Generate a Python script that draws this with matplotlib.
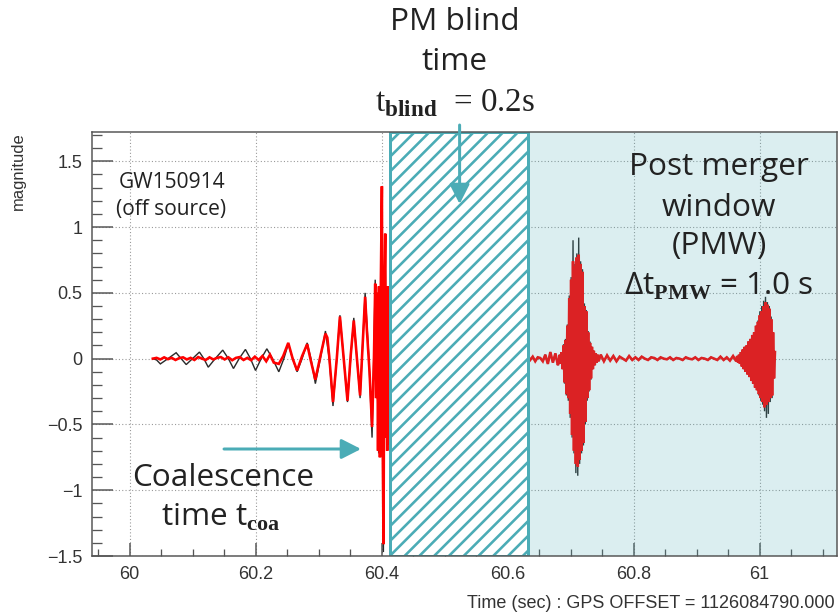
import numpy as np
import matplotlib
matplotlib.use("Agg")
import matplotlib.pyplot as plt
from matplotlib.ticker import MultipleLocator, FuncFormatter

# ---------------------------------------------------------------------------
# Figure geometry (pixels) and unit helper
# ---------------------------------------------------------------------------
W, H, DPI = 838, 616, 133


def pt(px):
    """Convert a size in pixels to points at the figure dpi."""
    return px * 72.0 / DPI


def fx(x):
    return x / W


def fy(y):
    return 1.0 - y / H


TEAL = "#4bacb6"
TEXT = "#222222"

plt.rcParams["mathtext.fontset"] = "custom"
plt.rcParams["mathtext.rm"] = "Liberation Serif"
plt.rcParams["mathtext.bf"] = "Liberation Serif:bold"
plt.rcParams["hatch.linewidth"] = pt(2.6)
plt.rcParams["hatch.color"] = TEAL

# ---------------------------------------------------------------------------
# Data
# ---------------------------------------------------------------------------
# Axis ranges (s, magnitude)
x_range = (59.940, 61.123)
y_range = (-1.50, 1.725)

# Post-merger blind window and post-merger window start
blind_start = 60.4138
blind_end = 60.632

# Whitened strain (black) during the inspiral
black_t = [60.037, 60.043, 60.049, 60.061, 60.074, 60.082, 60.090, 60.100,
           60.111, 60.118, 60.125, 60.136, 60.148, 60.157, 60.165, 60.174,
           60.184, 60.192, 60.200, 60.209, 60.218, 60.227, 60.237, 60.245,
           60.252, 60.259, 60.266, 60.274, 60.282, 60.288, 60.295, 60.303,
           60.311, 60.317, 60.323, 60.329, 60.334, 60.340, 60.346, 60.351,
           60.356, 60.361, 60.366, 60.370, 60.374, 60.380, 60.385, 60.388,
           60.390, 60.393, 60.3955, 60.398, 60.400, 60.4015, 60.403, 60.4045,
           60.406, 60.4075, 60.409, 60.4105, 60.412, 60.4135]
black_v = [0.00, -0.01, -0.04, 0.00, 0.045, 0.00, -0.045, 0.00,
           0.05, 0.00, -0.065, 0.00, 0.065, 0.00, -0.075, 0.00,
           0.07, 0.00, -0.09, 0.00, 0.075, 0.00, -0.10, 0.00,
           0.11, 0.00, -0.10, 0.00, 0.12, 0.00, -0.19, 0.00,
           0.21, 0.00, -0.36, 0.00, 0.33, 0.00, -0.33, 0.00,
           0.31, 0.00, -0.30, 0.10, 0.50, 0.00, -0.60, 0.10,
           0.60, -0.10, -0.72, 0.30, 1.05, -0.30, -1.47, 0.20,
           0.95, -0.40, 0.55, -0.65, 0.50, -0.30]

# Reconstructed waveform (red) during the inspiral
red_t = [60.037, 60.043, 60.049, 60.055, 60.061, 60.067, 60.073, 60.079,
         60.085, 60.091, 60.097, 60.103, 60.109, 60.115, 60.121, 60.127,
         60.133, 60.139, 60.145, 60.151, 60.157, 60.163, 60.169, 60.175,
         60.181, 60.187, 60.193, 60.199, 60.205, 60.211, 60.217, 60.223,
         60.229, 60.237, 60.244, 60.252, 60.259, 60.266, 60.274, 60.282,
         60.288, 60.295, 60.303, 60.311, 60.314, 60.317, 60.323, 60.329,
         60.334, 60.340, 60.346, 60.351, 60.356, 60.361, 60.366, 60.370,
         60.374, 60.377, 60.381, 60.385, 60.388, 60.390, 60.3915, 60.393,
         60.3945, 60.396, 60.3975, 60.399, 60.4006, 60.4018, 60.4032, 60.4045,
         60.4059, 60.407, 60.408, 60.409, 60.410, 60.411, 60.412, 60.413,
         60.4138]
red_v = [0.00, 0.006, -0.006, 0.01, -0.004, 0.006, -0.01, 0.004,
         0.01, -0.006, 0.006, -0.01, 0.012, 0.00, -0.01, 0.01,
         -0.006, 0.006, 0.012, -0.006, 0.01, -0.012, 0.006, 0.012,
         -0.01, 0.006, -0.012, 0.015, -0.01, 0.02, -0.02, 0.03,
         -0.03, -0.04, 0.02, 0.12, 0.00, -0.09, 0.02, 0.11,
         -0.02, -0.16, 0.02, 0.19, 0.16, 0.02, -0.33, 0.00,
         0.32, 0.00, -0.32, 0.02, 0.29, 0.00, -0.28, 0.10,
         0.47, 0.20, -0.10, -0.52, 0.00, 0.57, -0.30, 0.50,
         -0.70, 0.55, -0.75, 0.60, 1.31, -0.60, -1.41, 0.50,
         0.95, -0.60, 0.55, -0.70, 0.55, -0.65, 0.50, -0.60,
         0.30]

# Post-merger segments: uniformly sampled (start time, sample step, values)
pm_quiet1_start, pm_quiet1_step = 60.632, 0.004
pm_quiet1 = [0.02, -0.01, 0.015, -0.02, 0.01, 0.005, -0.02, 0.03, -0.04,
             0.05, -0.03, 0.04, -0.05]

pm_burst1_start, pm_burst1_step = 60.6815, 0.0015
pm_burst1_red = [-0.02, 0.03, -0.04, 0.05, -0.08, 0.10, -0.18, 0.14, -0.27,
                 0.25, -0.30, 0.46, -0.42, 0.60, -0.58, 0.74, -0.70, 0.70,
                 -0.80, 0.77, -0.82, 0.79, -0.77, 0.72, -0.70, 0.66, -0.64,
                 0.40, -0.48, 0.36, -0.30, 0.20, -0.24, 0.12, -0.15, 0.09,
                 -0.08, 0.06, -0.05, 0.04, -0.03, 0.03, -0.02]
pm_burst1_black = [-0.02, 0.03, -0.04, 0.05, -0.08, 0.11, -0.19, 0.15, -0.28,
                   0.26, -0.32, 0.48, -0.45, 0.62, -0.60, 0.90, -0.72, 0.72,
                   -0.87, 0.80, -0.89, 0.92, -0.80, 0.74, -0.72, 0.68, -0.66,
                   0.42, -0.50, 0.37, -0.32, 0.21, -0.25, 0.13, -0.16, 0.09,
                   -0.08, 0.06, -0.05, 0.04, -0.03, 0.03, -0.02]

pm_quiet2_start, pm_quiet2_step = 60.748, 0.005
pm_quiet2 = [0.03, -0.02, 0.025, -0.015, 0.02, -0.02, 0.015, 0.00, -0.015,
             0.02, -0.01, 0.01, -0.01, 0.015, 0.00, -0.01, 0.01, 0.005,
             -0.01, 0.01, 0.00, -0.005, 0.01, -0.01, 0.005, 0.00, -0.01,
             0.01, 0.00, -0.005, 0.01, -0.01, 0.005, 0.00, -0.01, 0.01,
             0.00, -0.01, 0.015, -0.01, 0.01, -0.015, 0.02, -0.02]

pm_burst2_start, pm_burst2_step = 60.9645, 0.0015
pm_burst2_red = [0.02, -0.03, 0.03, -0.04, 0.05, -0.06, 0.07, -0.08, 0.09,
                 -0.10, 0.10, -0.12, 0.13, -0.14, 0.15, -0.17, 0.18, -0.19,
                 0.20, -0.22, 0.25, -0.24, 0.28, -0.27, 0.33, -0.30, 0.36,
                 -0.33, 0.40, -0.37, 0.43, -0.35, 0.41, -0.33, 0.38, -0.30,
                 0.30, -0.28, 0.20, -0.15, 0.05]
pm_burst2_black = [0.02, -0.03, 0.03, -0.04, 0.05, -0.06, 0.07, -0.08, 0.09,
                   -0.10, 0.10, -0.12, 0.13, -0.14, 0.15, -0.17, 0.18, -0.19,
                   0.20, -0.22, 0.25, -0.24, 0.29, -0.28, 0.36, -0.32, 0.40,
                   -0.35, 0.44, -0.40, 0.47, -0.45, 0.43, -0.42, 0.40, -0.33,
                   0.32, -0.30, 0.20, -0.15, 0.05]


def sampled(start, step, values):
    return start + step * np.arange(len(values)), np.asarray(values)


def join(*segments):
    ts, vs = zip(*[sampled(*s) for s in segments])
    return np.concatenate(ts), np.concatenate(vs)


pm_red_t, pm_red_v = join((pm_quiet1_start, pm_quiet1_step, pm_quiet1),
                          (pm_burst1_start, pm_burst1_step, pm_burst1_red),
                          (pm_quiet2_start, pm_quiet2_step, pm_quiet2),
                          (pm_burst2_start, pm_burst2_step, pm_burst2_red))
pm_black_t, pm_black_v = join((pm_quiet1_start, pm_quiet1_step, pm_quiet1),
                              (pm_burst1_start, pm_burst1_step, pm_burst1_black),
                              (pm_quiet2_start, pm_quiet2_step, pm_quiet2),
                              (pm_burst2_start, pm_burst2_step, pm_burst2_black))

# ---------------------------------------------------------------------------
# Figure
# ---------------------------------------------------------------------------
fig = plt.figure(figsize=((W + 0.01) / DPI, (H + 0.01) / DPI), dpi=DPI)
fig.patch.set_facecolor("white")
ax = fig.add_axes([fx(91.7), fy(556.0), (837.0 - 91.7) / W, (556.0 - 131.7) / H])

black_kw = dict(color="#2a2a2a", lw=pt(1.4), solid_joinstyle="miter", zorder=2)
red_kw = dict(color="#ff0000", lw=pt(2.6), solid_joinstyle="miter", zorder=3)
ax.plot(black_t, black_v, **black_kw)
ax.plot(red_t, red_v, **red_kw)
ax.plot(pm_black_t, pm_black_v, **black_kw)
ax.plot(pm_red_t, pm_red_v, **red_kw)

ax.set_xlim(*x_range)
ax.set_ylim(*y_range)

# Post-merger window (translucent) and blind window (hatched)
ax.axvspan(blind_end, x_range[1], facecolor=TEAL, alpha=0.2,
           edgecolor="none", zorder=4)
ax.axvspan(blind_start, blind_end, facecolor="white", edgecolor=TEAL,
           hatch="///", lw=pt(3.0), zorder=5)

# Axes styling in the ROOT manner
ax.set_axisbelow(True)
ax.grid(True, which="major", ls=(0, (1, 2)), color="#9a9a9a", lw=pt(1.1))
for side in ("left", "bottom", "top", "right"):
    ax.spines[side].set_color("#555555")
    ax.spines[side].set_linewidth(pt(1.5))
    ax.spines[side].set_zorder(6)

ax.xaxis.set_major_locator(MultipleLocator(0.2))
ax.xaxis.set_minor_locator(MultipleLocator(0.05))
ax.yaxis.set_major_locator(MultipleLocator(0.5))
ax.yaxis.set_minor_locator(MultipleLocator(0.1))
fmt = FuncFormatter(lambda v, _: f"{round(v, 3):g}".replace("-", "\u2212"))
ax.xaxis.set_major_formatter(fmt)
ax.yaxis.set_major_formatter(fmt)

ax.tick_params(axis="x", which="major", direction="in", length=pt(13),
               width=pt(1.5), color="#555555", pad=pt(10),
               labelsize=pt(18), labelcolor="#333333")
ax.tick_params(axis="x", which="minor", direction="in", length=pt(7),
               width=pt(1.3), color="#555555")
ax.tick_params(axis="y", which="major", direction="in", length=pt(21),
               width=pt(1.5), color="#555555", pad=pt(9),
               labelsize=pt(18), labelcolor="#333333")
ax.tick_params(axis="y", which="minor", direction="in", length=pt(10),
               width=pt(1.3), color="#555555")
for lab in ax.get_xticklabels() + ax.get_yticklabels():
    lab.set_family("Liberation Sans")

fig.text(fx(835), fy(608), "Time (sec) : GPS OFFSET = 1126084790.000",
         ha="right", va="baseline", family="Liberation Sans", size=pt(18),
         color="#333333")
fig.text(fx(18.3), fy(132), "magnitude", rotation=90, ha="center", va="top",
         family="Liberation Sans", size=pt(16.5), color="#333333")

# ---------------------------------------------------------------------------
# Annotations
# ---------------------------------------------------------------------------
big = dict(family="Open Sans", size=pt(31.5), color=TEXT, ha="center",
           va="baseline")
small = dict(family="Open Sans", size=pt(21), color=TEXT, ha="center",
             va="baseline")

fig.text(fx(455), fy(30), "PM blind", **big)
fig.text(fx(454), fy(70), "time", **big)
fig.text(fx(455), fy(111.5), r"t$_{\mathbf{blind}}$  = 0.2s",
         family="Liberation Serif", size=pt(33), color=TEXT,
         ha="center", va="baseline")

fig.text(fx(719), fy(175), "Post merger", **big)
fig.text(fx(719), fy(215.5), "window", **big)
fig.text(fx(719), fy(254), "(PMW)", **big)
fig.text(fx(719), fy(295), r"Δt$_{\mathbf{PMW}}$ = 1.0 s", **big)

fig.text(fx(223), fy(486), "Coalescence", **big)
fig.text(fx(221), fy(526), r"time t$_{\mathbf{coa}}$", **big)

fig.text(fx(172), fy(188), "GW150914", **small)
fig.text(fx(171), fy(215), "(off source)", **small)

arrow = dict(arrowstyle="-|>,head_length=0.55,head_width=0.28", color=TEAL,
             lw=pt(3.0), shrinkA=0, shrinkB=0, mutation_scale=pt(30))
ax.annotate("", xy=(459.6, H - 204), xytext=(459.6, H - 125),
            xycoords="figure pixels", textcoords="figure pixels",
            arrowprops=arrow, zorder=7, annotation_clip=False)
ax.annotate("", xy=(361, H - 449), xytext=(224, H - 449),
            xycoords="figure pixels", textcoords="figure pixels",
            arrowprops=arrow, zorder=7, annotation_clip=False)

fig.savefig("out.png", dpi=DPI, facecolor="white")
